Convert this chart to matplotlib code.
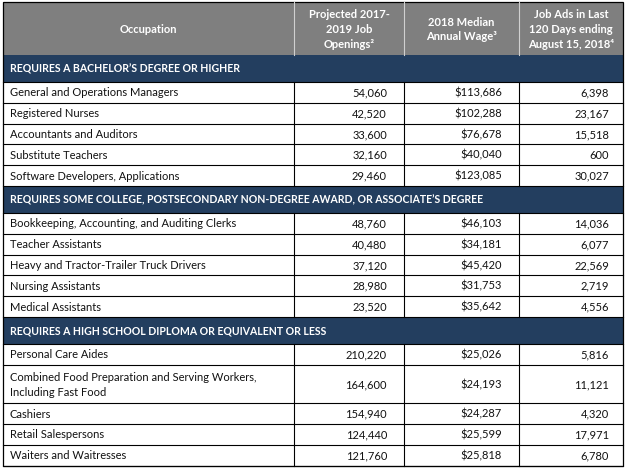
import matplotlib
matplotlib.use("Agg")
import matplotlib.pyplot as plt
from matplotlib.patches import Rectangle

plt.rcParams['font.family'] = ['Lato', 'DejaVu Sans']

# table content
header = ["Occupation", "Projected 2017-\n2019 Job\nOpenings\u00b2",
          "2018 Median\nAnnual Wage\u00b3", "Job Ads in Last\n120 Days ending\nAugust 15, 2018\u2074"]

sections = [
    "REQUIRES A BACHELOR\u2019S DEGREE OR HIGHER",
    "REQUIRES SOME COLLEGE, POSTSECONDARY NON-DEGREE AWARD, OR ASSOCIATE\u2019S DEGREE",
    "REQUIRES A HIGH SCHOOL DIPLOMA OR EQUIVALENT OR LESS",
]

occupations = [
    ["General and Operations Managers", "Registered Nurses", "Accountants and Auditors",
     "Substitute Teachers", "Software Developers, Applications"],
    ["Bookkeeping, Accounting, and Auditing Clerks", "Teacher Assistants",
     "Heavy and Tractor-Trailer Truck Drivers", "Nursing Assistants", "Medical Assistants"],
    ["Personal Care Aides", "Combined Food Preparation and Serving Workers,\nIncluding Fast Food",
     "Cashiers", "Retail Salespersons", "Waiters and Waitresses"],
]
openings = [[54060, 42520, 33600, 32160, 29460],
            [48760, 40480, 37120, 28980, 23520],
            [210220, 164600, 154940, 124440, 121760]]
wages = [[113686, 102288, 76678, 40040, 123085],
         [46103, 34181, 45420, 31753, 35642],
         [25026, 24193, 24287, 25599, 25818]]
job_ads = [[6398, 23167, 15518, 600, 30027],
           [14036, 6077, 22569, 2719, 4556],
           [5816, 11121, 4320, 17971, 6780]]

# layout in pixels
col_x = [3, 294, 404, 519, 623]
header_h = 53
band_h = 27
row_h = 20.8
header_bg = "#7f7f7f"
band_bg = "#233e5f"
fs = 8.0
fs_band = 7.6

fig = plt.figure(figsize=(6.29, 4.72), dpi=100)
ax = fig.add_axes([0, 0, 1, 1])
ax.set_xlim(0, 629)
ax.set_ylim(472, 0)
ax.axis('off')

left, right = col_x[0], col_x[-1]
y = 2
# header
ax.add_patch(Rectangle((left, y), right - left, header_h, facecolor=header_bg, edgecolor='none'))
for j, h in enumerate(header):
    cx = (col_x[j] + col_x[j + 1]) / 2
    ax.text(cx, y + header_h / 2 + 1, h, ha='center', va='center', color='white',
            fontsize=fs, fontweight='bold', linespacing=1.4)
for xc in col_x[1:-1]:
    ax.plot([xc, xc], [y, y + header_h], color='#d0d0d0', lw=0.8)
y += header_h

for s, title in enumerate(sections):
    ax.add_patch(Rectangle((left, y), right - left, band_h, facecolor=band_bg, edgecolor='none'))
    ax.text(left + 7, y + band_h / 2 + 0.5, title, ha='left', va='center', color='white',
            fontsize=fs_band, fontweight='bold')
    y += band_h
    for i, occ in enumerate(occupations[s]):
        h = row_h * 1.85 if "\n" in occ else row_h
        ax.plot([left, right], [y, y], color='black', lw=0.8)
        yc = y + h / 2 + 0.5
        ax.text(left + 7, yc, occ, ha='left', va='center', fontsize=fs, color='#111111',
                linespacing=1.45)
        ax.text(col_x[2] - 17, yc, f"{openings[s][i]:,}", ha='right', va='center',
                fontsize=fs, color='#111111')
        ax.text(col_x[3] - 17, yc, f"${wages[s][i]:,}", ha='right', va='center',
                fontsize=fs, color='#111111')
        ax.text(col_x[4] - 14, yc, f"{job_ads[s][i]:,}", ha='right', va='center',
                fontsize=fs, color='#111111')
        for xc in col_x[1:-1]:
            ax.plot([xc, xc], [y, y + h], color='black', lw=0.8)
        y += h
    ax.plot([left, right], [y, y], color='black', lw=0.8)

# outer border
ax.add_patch(Rectangle((left, 2), right - left, y - 2, facecolor='none', edgecolor='black', lw=0.9))

fig.savefig("out.png", dpi=100)
